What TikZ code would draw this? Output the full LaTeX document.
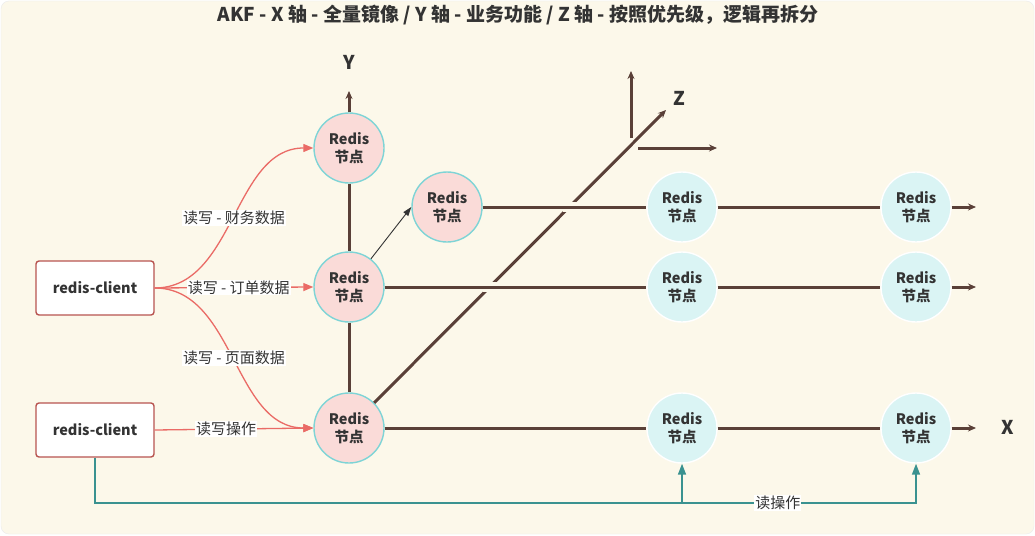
\documentclass[tikz,border=0pt]{standalone}
\usepackage{fontspec}
\setmainfont{Noto Sans CJK SC}
\usetikzlibrary{arrows.meta,calc}
\definecolor{bgc}{HTML}{FCF8EA}
\definecolor{brown}{HTML}{5A4038}
\definecolor{pinkfill}{HTML}{FADBD8}
\definecolor{cyanline}{HTML}{7ED4D6}
\definecolor{bluefill}{HTML}{DAF4F4}
\definecolor{pinkline}{HTML}{EA6B66}
\definecolor{tealline}{HTML}{3A9290}
\definecolor{clientline}{HTML}{B85450}
\definecolor{txt}{HTML}{333333}
\tikzset{
  pnode/.style={circle,minimum size=70pt,inner sep=0pt,fill=pinkfill,draw=cyanline,line width=1.4pt,align=center,text=txt,font=\fontsize{14.5}{18}\selectfont\bfseries},
  bnode/.style={circle,minimum size=70pt,inner sep=0pt,fill=bluefill,draw=white,line width=1.4pt,align=center,text=txt,font=\fontsize{14.5}{18}\selectfont\bfseries},
  client/.style={rectangle,rounded corners=3pt,minimum width=118pt,minimum height=54pt,fill=white,draw=clientline,line width=1.4pt,text=txt,font=\fontsize{14.5}{16}\selectfont\bfseries},
  axisl/.style={-{Stealth[length=8pt,width=7pt]},draw=brown,line width=3pt},
  axisp/.style={draw=brown,line width=3pt},
  gap/.style={draw=bgc,line width=10pt},
  pinkc/.style={-{Triangle[length=10pt,width=8pt]},draw=pinkline,line width=1.3pt},
  tealc/.style={-{Triangle[length=11pt,width=8pt]},draw=tealline,line width=1.6pt},
  lbl/.style={fill=white,inner sep=1pt,text=txt,font=\fontsize{15}{17}\selectfont},
  axlabel/.style={text=txt,font=\fontsize{19}{21}\selectfont\bfseries},
}
\begin{document}
\begin{tikzpicture}[x=1pt,y=-1pt]
\useasboundingbox (0,0) rectangle (1035,535);
\fill[white] (0,0) rectangle (1035,535);
\draw[fill=bgc,draw=black!8,rounded corners=8pt] (1,1) rectangle (1034,534);
\node[text=txt,font=\fontsize{19}{21}\selectfont\bfseries] (title) at (518,15) {AKF - X 轴 - 全量镜像 / Y 轴 - 业务功能 / Z 轴 - 按照优先级，逻辑再拆分};

% nodes
\node[pnode] (p1) at (349,148) {Redis\\节点};
\node[pnode] (p2) at (447,207) {Redis\\节点};
\node[pnode] (p3) at (349,287) {Redis\\节点};
\node[pnode] (p4) at (349,428) {Redis\\节点};
\node[bnode] (b1) at (682,207) {Redis\\节点};
\node[bnode] (b2) at (916,207) {Redis\\节点};
\node[bnode] (b3) at (682,287) {Redis\\节点};
\node[bnode] (b4) at (916,287) {Redis\\节点};
\node[bnode] (b5) at (682,428) {Redis\\节点};
\node[bnode] (b6) at (916,428) {Redis\\节点};
\node[client] (c1) at (95,288) {redis-client};
\node[client] (c2) at (95,430) {redis-client};

% axis labels
\node[axlabel] (ly) at (349,62) {Y};
\node[axlabel] (lz) at (679,98) {Z};
\node[axlabel] (lx) at (1008,427) {X};

% coordinates
\coordinate (ytip) at (349,91);
\coordinate (ztip) at (666,110);
\coordinate (zvb) at (631,138);
\coordinate (zvt) at (631,71);
\coordinate (zhl) at (638,148);
\coordinate (zhr) at (717,148);
\coordinate (x1) at (976,207);
\coordinate (x2) at (976,287);
\coordinate (x3) at (976,428);
\coordinate (g1a) at (563,207);
\coordinate (g1b) at (577,207);
\coordinate (g2a) at (483,287);
\coordinate (g2b) at (497,287);

% Y axis
\draw[axisl] (p1.north) -- (ytip);
\draw[axisp] (p1.south) -- (p3.north);
\draw[axisp] (p3.south) -- (p4.north);
% Z axis
\draw[axisl] (p4.north east) -- (ztip);
\draw[axisl] (zvb) -- (zvt);
\draw[axisl] (zhl) -- (zhr);
% gaps for line jumps
\draw[gap] (g1a) -- (g1b);
\draw[gap] (g2a) -- (g2b);
% X rows
\draw[axisp] (p2.east) -- (b1.west);
\draw[axisp] (b1.east) -- (b2.west);
\draw[axisl] (b2.east) -- (x1);
\draw[axisp] (p3.east) -- (b3.west);
\draw[axisp] (b3.east) -- (b4.west);
\draw[axisl] (b4.east) -- (x2);
\draw[axisp] (p4.east) -- (b5.west);
\draw[axisp] (b5.east) -- (b6.west);
\draw[axisl] (b6.east) -- (x3);

% black arrow
\draw[-{Triangle[length=9pt,width=6pt]},draw=txt,line width=0.9pt] (p3) -- (p2.west);

% pink curves
\draw[pinkc] (c1.east) .. controls +(80,0) and +(-80,0) .. node[lbl,pos=0.5]{读写 - 财务数据} (p1.west);
\draw[pinkc] (c1.east) -- node[lbl,pos=0.53]{读写 - 订单数据} (p3.west);
\draw[pinkc] (c1.east) .. controls +(80,0) and +(-80,0) .. node[lbl,pos=0.5]{读写 - 页面数据} (p4.west);
\draw[pinkc] (c2.east) -- node[lbl,pos=0.45]{读写操作} (p4.west);

% teal read path
\coordinate (t1) at (682,503);
\coordinate (t2) at (916,503);
\draw[tealc] (c2.south) |- (t1) -- node[lbl,pos=0.41]{读操作} (t2) -- (b6.south);
\draw[tealc] (t1) -- (b5.south);
\end{tikzpicture}
\end{document}
